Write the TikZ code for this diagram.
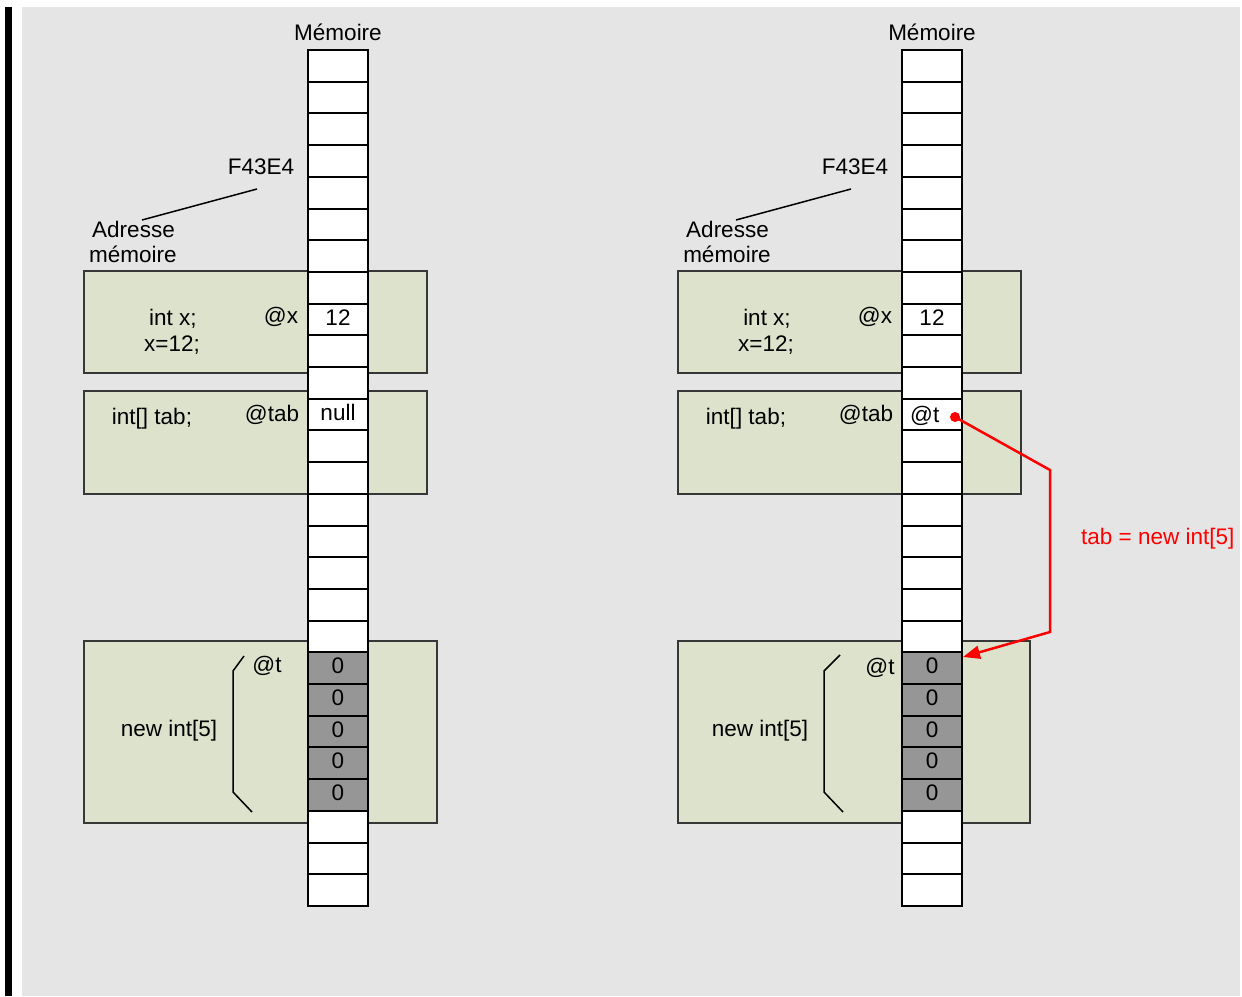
\documentclass[tikz,border=0pt]{standalone}
\usepackage{fontspec}
\setmainfont{Liberation Sans}
\usetikzlibrary{arrows.meta}
\definecolor{bggray}{RGB}{229,229,229}
\definecolor{boxgreen}{RGB}{221,226,204}
\definecolor{cellgray}{RGB}{150,150,150}
\definecolor{boxline}{RGB}{55,55,55}
\definecolor{arrred}{RGB}{255,0,0}
\begin{document}
\begin{tikzpicture}[x=1pt,y=-1pt,
  font=\fontsize{22.5}{27}\selectfont,
  cell/.style={draw=black, line width=2pt, minimum width=60pt, minimum height=31.704pt, inner sep=0pt, outer sep=0pt},
  gbox/.style={draw=boxline, fill=boxgreen, line width=1.3pt, inner sep=0pt, outer sep=0pt, anchor=north west},
  txt/.style={anchor=base, inner sep=0pt},
  txtw/.style={anchor=base west, inner sep=0pt},
  thin/.style={draw=black, line width=1.5pt},
  redline/.style={draw=arrred, line width=2.5pt}]
\useasboundingbox (0,0) rectangle (1242,996);
\fill[white] (0,0) rectangle (1242,996);
\fill[bggray] (22,7) rectangle (1240,996);
\fill[black] (5,7) rectangle (12,996);

% green boxes
\node[gbox, minimum width=343pt, minimum height=102pt] (bL1) at (84,271) {};
\node[gbox, minimum width=343pt, minimum height=103pt] (bL2) at (84,391) {};
\node[gbox, minimum width=353pt, minimum height=182pt] (bL3) at (84,641) {};
\node[gbox, minimum width=343pt, minimum height=102pt] (bR1) at (678,271) {};
\node[gbox, minimum width=343pt, minimum height=103pt] (bR2) at (678,391) {};
\node[gbox, minimum width=352pt, minimum height=182pt] (bR3) at (678,641) {};

% memory cells
\foreach \side/\cx in {L/338, R/932}{
  \foreach \i in {0,...,26}{
    \ifnum\i>18 \ifnum\i<24 \def\fc{cellgray}\else\def\fc{white}\fi\else\def\fc{white}\fi
    \node[cell, fill=\fc] (\side\i) at (\cx, {50+31.704*(\i+0.5)}) {};
  }
}

% zeros
\foreach \side/\cx in {L/338, R/932}{
  \foreach \i in {19,...,23}{
    \node[txt] (z\side\i) at (\cx, {50+31.704*(\i+0.5)+5.6}) {0};
  }
}

% left texts
\node[txt] (memL) at (338,40) {Mémoire};
\node[txt] (adrL) at (261,174) {F43E4};
\node[txt] (adL) at (133.5,237) {Adresse};
\node[txt] (mmL) at (133,262) {mémoire};
\node[txt] (ixL) at (173,325) {int x;};
\node[txt] (x12L) at (172,351) {x=12;};
\node[txt] (axL) at (281,323) {@x};
\node[txt] (v12L) at (338,325) {12};
\node[txt] (itL) at (152,424) {int[] tab;};
\node[txt] (atabL) at (272,421) {@tab};
\node[txt] (nullL) at (338,420) {null};
\node[txt] (atL) at (267,672) {@t};
\node[txt] (niL) at (169,736) {new int[5]};

% right texts
\node[txt] (memR) at (932,40) {Mémoire};
\node[txt] (adrR) at (855,174) {F43E4};
\node[txt] (adR) at (727.5,237) {Adresse};
\node[txt] (mmR) at (727,262) {mémoire};
\node[txt] (ixR) at (767,325) {int x;};
\node[txt] (x12R) at (766,351) {x=12;};
\node[txt] (axR) at (875,323) {@x};
\node[txt] (v12R) at (932,325) {12};
\node[txt] (itR) at (746,424) {int[] tab;};
\node[txt] (atabR) at (866,421) {@tab};
\node[txtw] (ptrR) at (910,422) {@t};
\node[txt] (atR) at (880,674) {@t};
\node[txt] (niR) at (760,736) {new int[5]};
\node[txtw, text=arrred] (lab) at (1081,544) {tab = new int[5]};

% address pointer lines
\coordinate (aL1) at (257,189); \coordinate (aL2) at (142,220);
\coordinate (aR1) at (851,189); \coordinate (aR2) at (736,220);
\draw[thin] (aL1) -- (aL2);
\draw[thin] (aR1) -- (aR2);

% brackets
\draw[thin] (244,656) -- (233,671) -- (233,792) -- (252,812);
\draw[thin] (840,655) -- (824,671) -- (824,792) -- (843,812);

% red arrow
\coordinate (dot) at (955,417);
\coordinate (c1) at (1050,470);
\coordinate (c2) at (1050,632);
\coordinate (tip) at (963,657);
\fill[arrred] (dot) circle (5pt);
\draw[redline, -{Triangle[length=17pt,width=13pt]}] (dot) -- (c1) -- (c2) -- (tip);
\end{tikzpicture}
\end{document}
